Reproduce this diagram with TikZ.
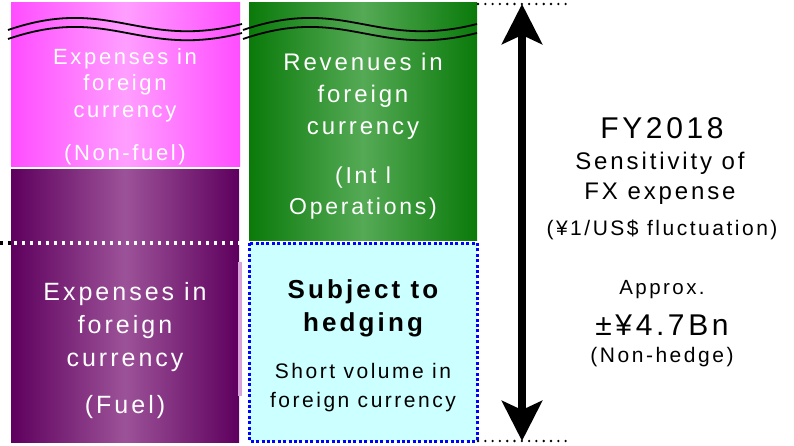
\documentclass[tikz,border=0pt]{standalone}
\usepackage{fontspec}
\setmainfont{Liberation Sans}[LetterSpace=12]
\usetikzlibrary{arrows.meta}

\definecolor{nfedge}{HTML}{FF4DFF}
\definecolor{nfmid}{HTML}{FF9EFF}
\definecolor{fuedge}{HTML}{5E005E}
\definecolor{fumid}{HTML}{9C5298}
\definecolor{revedge}{HTML}{0A7A0A}
\definecolor{revmid}{HTML}{55AA55}
\definecolor{hedgefill}{HTML}{CCFFFF}
\definecolor{stripcol}{HTML}{D9A3D9}

\tikzset{
    boxtext/.style={text=white, align=center, inner sep=0pt},
    sidetext/.style={text=black, align=center, inner sep=0pt},
    wave/.style={line width=1.8pt, black},
    pointdots/.style={line width=2.6pt, line cap=round, dash pattern=on 0pt off 7.3pt},
    squaredots/.style={line width=3.4pt, dash pattern=on 3.4pt off 4.6pt},
    bigarrow/.style={line width=8pt, {Stealth[length=40pt,width=40pt,inset=9pt]}-{Stealth[length=40pt,width=40pt,inset=9pt]}}
}

\begin{document}
\begin{tikzpicture}[x=1pt,y=-1pt]
    \useasboundingbox (0,0) rectangle (794,446);
    \fill [white] (0,0) rectangle (794,446);

    % the four blocks
    \shade [left color=nfedge, right color=nfedge, middle color=nfmid] (11,3) rectangle (240,167);
    \shade [left color=fuedge, right color=fuedge, middle color=fumid] (11,170) rectangle (239,442);
    \shade [left color=revedge, right color=revedge, middle color=revmid] (249,3) rectangle (477,240);
    \fill [stripcol] (238,262) rectangle (242,396);
    \draw [blue, fill=hedgefill, line width=3pt, dash pattern=on 3pt off 2.4pt] (249,243) rectangle (477,441);

    % cut marks
    \foreach \dx in {0,235}
        \foreach \dy in {0,9}
            \draw [wave, shift={(\dx,\dy)}] (8,30) .. controls (110,-5) and (140,50) .. (242,24);

    % dotted level lines
    \draw [squaredots, black] (0,243) -- (11,243);
    \draw [squaredots, white] (14,243) -- (240,243);
    \coordinate (top) at (522,4);
    \coordinate (bot) at (522,441);
    \draw [pointdots] (478,4) -- (566,4);
    \draw [pointdots] (478,441) -- (568,441);
    \draw [bigarrow] (top) -- (bot);

    \node [boxtext, font=\fontsize{22}{26.5}\selectfont] (nonfuel) at (125,85) {Expenses in\\foreign\\currency};
    \node [boxtext, font=\fontsize{22}{26.5}\selectfont] (nonfuelsub) at (125,155) {(Non-fuel)};
    \node [boxtext, font=\fontsize{25}{33}\selectfont] (fuel) at (125,327) {Expenses in\\foreign\\currency};
    \node [boxtext, font=\fontsize{25}{33}\selectfont] (fuelsub) at (125,407) {(Fuel)};
    \node [boxtext, font=\fontsize{24}{32}\selectfont] (rev) at (363,96) {Revenues in\\foreign\\currency};
    \node [boxtext, font=\fontsize{23}{31}\selectfont] (revsub) at (363,193) {(Int l\\Operations)};
    \node [sidetext, font=\fontsize{26}{33}\bfseries] (hedge) at (363,308) {Subject to\\hedging};
    \node [sidetext, font=\fontsize{21}{29}\selectfont] (short) at (363,388) {Short volume in\\foreign currency};

    \node [sidetext, font=\fontsize{30}{36}\selectfont] (fy) at (662,128) {FY2018};
    \node [sidetext, font=\fontsize{24}{30}\selectfont] (sens) at (660,178) {Sensitivity of\\FX expense};
    \node [sidetext, font=\fontsize{21}{25}\selectfont] (fluct) at (662,230) {(¥1/US\$ fluctuation)};
    \node [sidetext, font=\fontsize{20.5}{24}\selectfont] (approx) at (662,290) {Approx.};
    \node [sidetext, font=\fontsize{30}{36}\selectfont] (amount) at (662,325) {±¥4.7Bn};
    \node [sidetext, font=\fontsize{21}{25}\selectfont] (nonhedge) at (662,357) {(Non-hedge)};
\end{tikzpicture}
\end{document}
